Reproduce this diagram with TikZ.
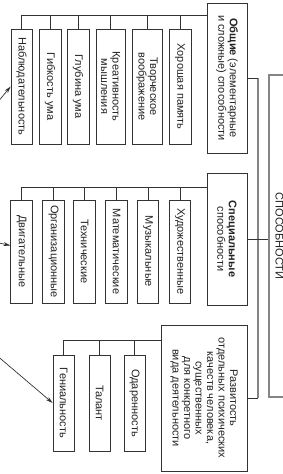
\documentclass[tikz,border=0pt]{standalone}
\usepackage{fontspec}
\setmainfont{Liberation Sans}
\usetikzlibrary{arrows.meta}
\definecolor{linecol}{HTML}{333333}
\definecolor{spinecol}{HTML}{858585}
\definecolor{textcol}{HTML}{222222}

\begin{document}
\begin{tikzpicture}[x=1pt, y=-1pt,
    itembox/.style={draw=linecol, line width=0.7pt, rotate=-90, inner sep=0pt,
        align=center, text=textcol, font=\fontsize{11}{11.5}\selectfont},
    wire/.style={draw=linecol, line width=0.7pt},
    spine/.style={draw=spinecol, line width=1.3pt},
    pointer/.style={draw=linecol, line width=0.7pt, -{Stealth[length=7pt, width=4pt]}}]
    \useasboundingbox (0,0) rectangle (283,474);
    \clip (0,0) rectangle (283,474);

    % Главный блок
    \node[itembox, draw=spinecol, line width=1.3pt, minimum width=322pt, minimum height=21pt]
        (main) at (279.5,236) {СПОСОБНОСТИ};
    \coordinate (spineX) at (258,0);

    % Блоки групп
    \node[itembox, minimum width=150pt, minimum height=40pt] (obsh) at (227,78)
        {\textbf{Общие} (элементарные\\и сложные) способности};
    \node[itembox, minimum width=132pt, minimum height=40pt] (spec) at (227,239)
        {\textbf{Специальные}\\способности};
    \node[itembox, minimum width=146pt, minimum height=86pt] (razv) at (204,398)
        {Развитость\\отдельных психических\\качеств человека,\\существенных\\для конкретного\\вида деятельности};

    % Связи с главным блоком
    \draw[spine] (obsh.north -| spineX) -- (razv.north -| spineX);
    \draw[wire] (obsh.north) -- (obsh.north -| spineX);
    \draw[wire] (spec.north) -- (spec.north -| main.south);
    \draw[wire] (razv.north) -- (razv.north -| spineX);

    % Общие способности
    \foreach \n/\x/\w/\t in {1/21.5/21/Наблюдательность, 2/50/22/Гибкость ума,
            3/78/22/Глубина ума, 4/110.5/29/{Креативность\\мышления},
            5/147/30/{Творческое\\воображение}, 6/180/22/Хорошая память} {
        \node[itembox, minimum width=115pt, minimum height=\w pt] (o\n) at (\x,86.5) {\t};
    }
    \coordinate (busO) at (0,15);
    \foreach \n in {1,...,6} {
        \draw[wire] (o\n.west) -- (o\n.west |- busO);
    }
    \draw[wire] (o1.west |- busO) -- (obsh.south |- busO);

    % Специальные способности
    \foreach \n/\x/\t in {1/21.5/Двигательные, 2/53.5/Организационные, 3/84.5/Технические,
            4/116.5/Математические, 5/148/Музыкальные, 6/180/Художественные} {
        \node[itembox, minimum width=103pt, minimum height=21.5pt] (s\n) at (\x,251.5) {\t};
    }
    \coordinate (busS) at (0,187);
    \foreach \n in {1,...,6} {
        \draw[wire] (s\n.west) -- (s\n.west |- busS);
    }
    \draw[wire] (s1.west |- busS) -- (spec.south |- busS);

    % Уровни развития
    \foreach \n/\x/\t in {1/63.5/Гениальность, 2/99.5/Талант, 3/134.5/Одаренность} {
        \node[itembox, minimum width=96pt, minimum height=21pt] (r\n) at (\x,403) {\t};
    }
    \coordinate (busR) at (0,340);
    \foreach \n in {1,...,3} {
        \draw[wire] (r\n.west) -- (r\n.west |- busR);
    }
    \draw[wire] (r1.west |- busR) -- (razv.south |- busR);

    % Стрелки слева
    \coordinate (fromO) at (-12,114);
    \coordinate (fromS) at (-12,240.5);
    \coordinate (fromR) at (-12,348);
    \draw[pointer] (fromO) -- (o1.south);
    \draw[pointer] (fromS) -- ([yshift=6pt]s1.south);
    \draw[pointer] (fromR) -- (r1.south);
\end{tikzpicture}
\end{document}
